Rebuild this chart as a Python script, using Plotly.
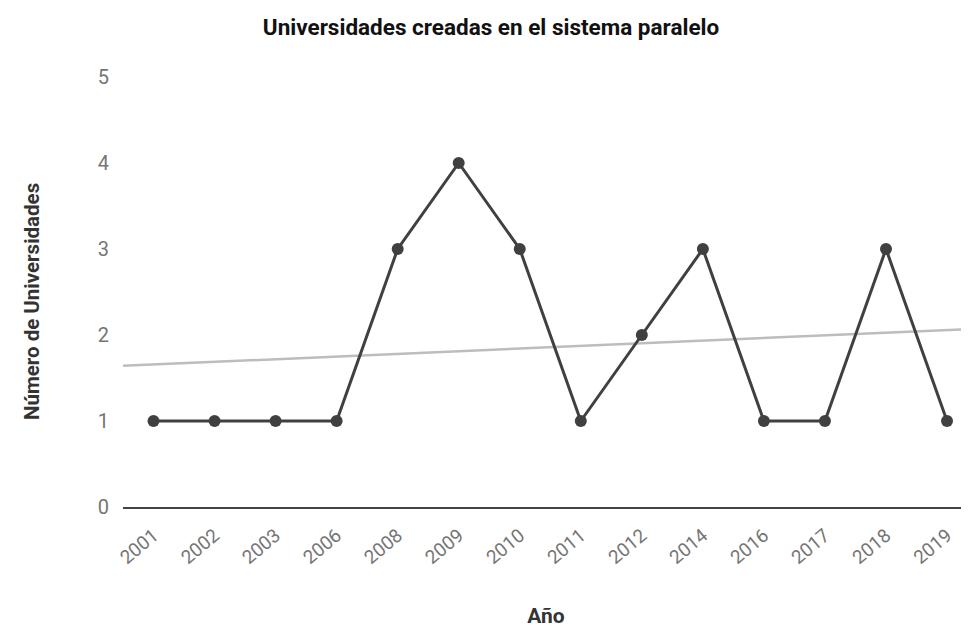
import numpy as np
import plotly.graph_objects as go

years = ["2001", "2002", "2003", "2006", "2008", "2009", "2010",
         "2011", "2012", "2014", "2016", "2017", "2018", "2019"]
universidades = [1, 1, 1, 1, 3, 4, 3, 1, 2, 3, 1, 1, 3, 1]
y_ticks = [0, 1, 2, 3, 4, 5]

idx = np.arange(len(years))
slope, intercept = np.polyfit(idx, universidades, 1)
x_lo, x_hi = -0.5, 13.36
trend_x = [x_lo, x_hi]
trend_y = [intercept + slope * x_lo, intercept + slope * x_hi]

fig = go.Figure()
fig.add_trace(go.Scatter(
    x=trend_x, y=trend_y, mode="lines",
    line=dict(color="#bdbdbd", width=2.5), hoverinfo="skip", showlegend=False))
fig.add_trace(go.Scatter(
    x=idx, y=universidades, mode="lines+markers",
    line=dict(color="#404040", width=3),
    marker=dict(color="#404040", size=12), showlegend=False))

fig.update_layout(
    width=969, height=627,
    margin=dict(l=115, r=8, t=69, b=128),
    paper_bgcolor="white", plot_bgcolor="white",
    font=dict(family="Roboto", color="#757575"),
    title=dict(text="<b>Universidades creadas en el sistema paralelo</b>",
               x=0.4985, xanchor="center", xref="container",
               y=0.9697, yanchor="middle", yref="container",
               font=dict(size=22.5, color="#111111", family="Roboto")),
    xaxis=dict(range=[x_lo, x_hi], tickmode="array", tickvals=idx, ticktext=years,
               tickangle=-40, tickfont=dict(size=19, color="#757575"),
               ticklabelstandoff=8,
               showgrid=False, zeroline=False, showline=True,
               linecolor="#444444", linewidth=2, ticks="",
               title=dict(text="<b>Año</b>", standoff=40,
                          font=dict(size=21, color="#333333"))),
    yaxis=dict(range=[0, 5], tickmode="array", tickvals=y_ticks,
               tickfont=dict(size=20, color="#757575"),
               showgrid=False, zeroline=False, showline=False, ticks="",
               ticklabelstandoff=13),
    annotations=[dict(text="<b>Número de Universidades</b>", textangle=-90,
                      xref="paper", yref="paper", x=-0.1076, y=0.479,
                      xanchor="center", yanchor="middle", showarrow=False,
                      font=dict(size=20.5, color="#333333", family="Roboto"))],
)

fig.write_html("out.html")
